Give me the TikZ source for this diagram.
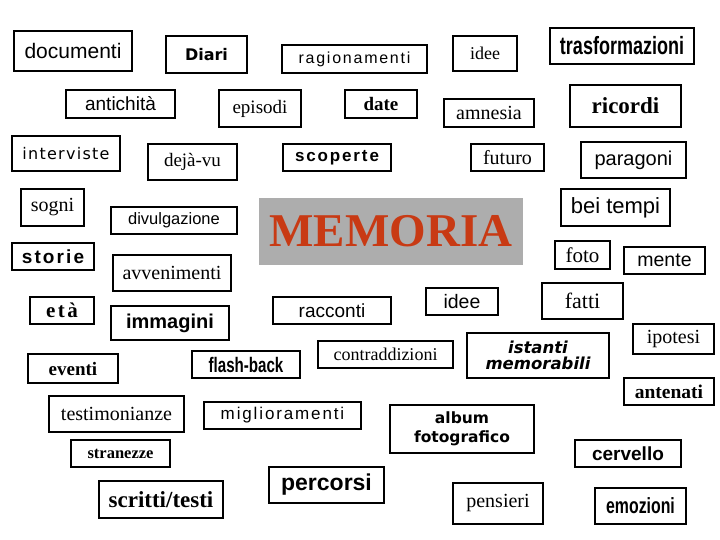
\documentclass[tikz,border=0pt]{standalone}
\usepackage{fontspec}
\setmainfont{Liberation Serif}
\newfontfamily\arial{Liberation Sans}
\newfontfamily\arialsp[LetterSpace=11]{Liberation Sans}
\newfontfamily\deja{DejaVu Sans}
\newfontfamily\dejasp[LetterSpace=8]{DejaVu Sans}
\newfontfamily\timessp[LetterSpace=12]{Liberation Serif}
\newfontfamily\impact[FakeStretch=0.72]{Liberation Sans}
\newcommand\fsz[1]{\fontsize{#1}{#1}\selectfont}
\definecolor{memred}{RGB}{200,58,20}
\definecolor{memgray}{RGB}{173,173,173}
\tikzset{
  wbox/.style={draw=black, line width=1.1pt, fill=white, rectangle, inner sep=0pt, align=center},
  memobox/.style={fill=memgray, rectangle, inner sep=0pt, text=memred}
}
\begin{document}
\begin{tikzpicture}[x=1pt,y=-1pt]
\useasboundingbox (0,0) rectangle (720,540);
\node[wbox, minimum width=118pt, minimum height=40pt, font=\arial\fsz{21}] (documenti) at (73,51) {documenti};
\node[wbox, minimum width=81pt, minimum height=37pt, font=\deja\bfseries\fsz{16}] (diari) at (206.5,54.5) {Diari};
\node[wbox, minimum width=145pt, minimum height=28pt, font=\arialsp\fsz{16}] (ragionamenti) at (354.5,59) {ragionamenti};
\node[wbox, minimum width=109pt, minimum height=28pt, font=\arial\fsz{19}] (antichita) at (120.5,104) {antichità};
\node[wbox, minimum width=82pt, minimum height=37pt, font=\fsz{19}] (episodi) at (260,108.5) {episodi};
\node[wbox, minimum width=72pt, minimum height=28pt, font=\bfseries\fsz{19}] (date) at (381,104) {date};
\node[wbox, minimum width=64pt, minimum height=35pt, font=\fsz{18}] (idee) at (485,53.5) {idee};
\node[wbox, minimum width=144pt, minimum height=36pt, font=\impact\bfseries\fsz{25}] (trasformazioni) at (622,46) {trasformazioni};
\node[wbox, minimum width=90pt, minimum height=28pt, font=\fsz{20}] (amnesia) at (489,113) {amnesia};
\node[wbox, minimum width=111pt, minimum height=42pt, font=\bfseries\fsz{23}] (ricordi) at (625.5,106) {ricordi};
\node[wbox, minimum width=108pt, minimum height=35pt, font=\dejasp\fsz{16}] (interviste) at (66,153.5) {interviste};
\node[wbox, minimum width=89pt, minimum height=36pt, font=\fsz{19}] (dejavu) at (192.5,162) {dejà-vu};
\node[wbox, minimum width=108pt, minimum height=27pt, font=\arialsp\bfseries\fsz{17}] (scoperte) at (337,157.5) {scoperte};
\node[wbox, minimum width=73pt, minimum height=27pt, font=\fsz{20}] (futuro) at (507.5,157.5) {futuro};
\node[wbox, minimum width=105pt, minimum height=36pt, font=\arial\fsz{20}] (paragoni) at (633.5,160) {paragoni};
\node[wbox, minimum width=63pt, minimum height=37pt, font=\fsz{20}] (sogni) at (52.5,207.5) {sogni};
\node[wbox, minimum width=126pt, minimum height=27pt, font=\arial\fsz{16.5}] (divulgazione) at (174,220.5) {divulgazione};
\node[memobox, minimum width=264pt, minimum height=67pt, font=\bfseries\fsz{47}] (memoria) at (391,231.5) {MEMORIA};
\node[wbox, minimum width=109pt, minimum height=37pt, font=\arial\fsz{22}] (beitempi) at (615.5,207.5) {bei tempi};
\node[wbox, minimum width=82pt, minimum height=27pt, font=\arialsp\bfseries\fsz{19}] (storie) at (53,256.5) {storie};
\node[wbox, minimum width=118pt, minimum height=36pt, font=\fsz{20}] (avvenimenti) at (172,273) {avvenimenti};
\node[wbox, minimum width=55pt, minimum height=28pt, font=\fsz{21}] (foto) at (582.5,255) {foto};
\node[wbox, minimum width=81pt, minimum height=27pt, font=\arial\fsz{19.5}] (mente) at (664.5,260.5) {mente};
\node[wbox, minimum width=64pt, minimum height=27pt, font=\timessp\bfseries\fsz{21}] (eta) at (62,310.5) {età};
\node[wbox, minimum width=118pt, minimum height=34pt, font=\arial\bfseries\fsz{20}] (immagini) at (170,323) {immagini};
\node[wbox, minimum width=118pt, minimum height=27pt, font=\arial\fsz{19}] (racconti) at (332,310.5) {racconti};
\node[wbox, minimum width=72pt, minimum height=27pt, font=\arial\fsz{19.5}] (idee2) at (462,301.5) {idee};
\node[wbox, minimum width=81pt, minimum height=36pt, font=\fsz{22}] (fatti) at (582.5,301) {fatti};
\node[wbox, minimum width=90pt, minimum height=29pt, font=\bfseries\fsz{19}] (eventi) at (73,368.5) {eventi};
\node[wbox, minimum width=108pt, minimum height=27pt, font=\impact\bfseries\fsz{21}] (flashback) at (246,364.5) {flash-back};
\node[wbox, minimum width=135pt, minimum height=27pt, font=\fsz{18}] (contraddizioni) at (385.5,354.5) {contraddizioni};
\node[wbox, minimum width=142pt, minimum height=45pt, font=\deja\bfseries\itshape\fsz{16.5}] (istanti) at (538,355.5) {istanti\\[0pt]memorabili};
\node[wbox, minimum width=81pt, minimum height=30pt, font=\fsz{20}] (ipotesi) at (673.5,339) {ipotesi};
\node[wbox, minimum width=90pt, minimum height=27pt, font=\bfseries\fsz{19.5}] (antenati) at (669,391.5) {antenati};
\node[wbox, minimum width=135pt, minimum height=36pt, font=\fsz{20}] (testimonianze) at (116.5,414) {testimonianze};
\node[wbox, minimum width=157pt, minimum height=27pt, font=\arialsp\fsz{17}] (miglioramenti) at (282.5,415.5) {miglioramenti};
\node[wbox, minimum width=99pt, minimum height=27pt, font=\bfseries\fsz{16.5}] (stranezze) at (120.5,453.5) {stranezze};
\node[wbox, minimum width=124pt, minimum height=37pt, font=\bfseries\fsz{23}] (scritti) at (161,499.5) {scritti/testi};
\node[wbox, minimum width=115pt, minimum height=36pt, font=\arial\bfseries\fsz{23}] (percorsi) at (326.5,485) {percorsi};
\node[wbox, minimum width=144pt, minimum height=48pt, font=\deja\bfseries\fsz{15.5}] (album) at (462,429) {album\\[4pt]fotografico};
\node[wbox, minimum width=106pt, minimum height=27pt, font=\arial\bfseries\fsz{19}] (cervello) at (628,453.5) {cervello};
\node[wbox, minimum width=90pt, minimum height=41pt, font=\fsz{20}] (pensieri) at (498,503.5) {pensieri};
\node[wbox, minimum width=91pt, minimum height=36pt, font=\impact\bfseries\fsz{22}] (emozioni) at (640.5,506) {emozioni};
\end{tikzpicture}
\end{document}
